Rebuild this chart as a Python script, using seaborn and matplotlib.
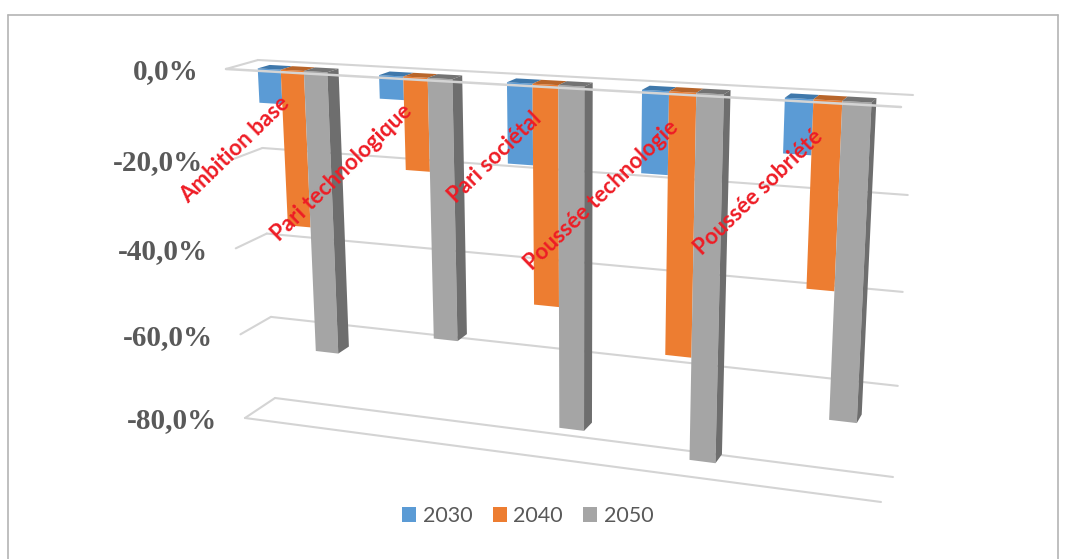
import numpy as np
import pandas as pd
import matplotlib
matplotlib.use("Agg")
import matplotlib.pyplot as plt
import seaborn as sns
from matplotlib.lines import Line2D
from matplotlib.patches import Polygon
from matplotlib.transforms import IdentityTransform, Transform

# Chart values
scenarios = ["Ambition base", "Pari technologique", "Pari sociétal",
             "Poussée technologie", "Poussée sobriété"]
years = ["2030", "2040", "2050"]
values_2030 = [-7.5, -5, -17, -17, -11]
values_2040 = [-34.5, -20, -47, -55, -38]
values_2050 = [-63, -57, -74, -77.5, -65]
grid_values = [0, -20, -40, -60, -80]
grid_labels = ["0,0%", "-20,0%", "-40,0%", "-60,0%", "-80,0%"]

W, H = 1067, 559
BLUE, ORANGE, GREY = "#5b9bd5", "#ed7d31", "#a5a5a5"
TOP_COLOURS = ["#3f78ab", "#b8652a", "#737373"]
SIDE_COLOUR = "#6e6e6e"
GRID_COLOUR = "#d4d4d4"
FRONT_DEPTH, BACK_DEPTH = 0.78, 0.40
BAR_WIDTH = 0.58

sns.set_theme(style="white")
fig = plt.figure(figsize=(W / 100, H / 100), dpi=100, facecolor="white")
ax = fig.add_axes([0, 0, 1, 1])


def px(x, y):
    return (x, H - y)


# Corners of the chart box: left-top, right-top, right-bottom, left-bottom
BACK_WALL = np.array([px(258, 60), px(913, 95), px(893, 477), px(275, 398)], float)
FRONT_WALL = np.array([px(226, 69), px(901, 107), px(881, 502), px(245, 418)], float)
X_MIN, X_MAX, V_MIN, V_MAX = -0.5, 4.5, -80.0, 0.0


def homography(src, dst):
    rows, rhs = [], []
    for (x, y), (u, v) in zip(src, dst):
        rows.append([x, y, 1, 0, 0, 0, -u * x, -u * y])
        rows.append([0, 0, 0, x, y, 1, -v * x, -v * y])
        rhs += [u, v]
    return np.append(np.linalg.solve(np.array(rows), np.array(rhs)), 1).reshape(3, 3)


class WallProjection(Transform):
    """Maps (category, value) on a plane of given depth to display pixels."""
    input_dims = output_dims = 2
    has_inverse = False
    is_separable = False

    def __init__(self, depth):
        super().__init__()
        corners = BACK_WALL + depth * (FRONT_WALL - BACK_WALL)
        source = [(X_MIN, V_MAX), (X_MAX, V_MAX), (X_MAX, V_MIN), (X_MIN, V_MIN)]
        self.matrix = homography(source, corners)

    def transform_non_affine(self, values):
        pts = np.asarray(values, float)
        hom = np.c_[pts, np.ones(len(pts))] @ self.matrix.T
        return hom[:, :2] / hom[:, 2:]


front_wall = WallProjection(1.0)
back_wall = WallProjection(0.0)
bar_front = WallProjection(FRONT_DEPTH)
bar_back = WallProjection(BACK_DEPTH)


def draw_face(points_front, points_back, colour, zorder=2.2):
    verts = np.vstack([bar_front.transform(points_front),
                       bar_back.transform(points_back)[::-1]])
    ax.add_patch(Polygon(verts, closed=True, facecolor=colour, edgecolor="none",
                         transform=IdentityTransform(), zorder=zorder))


df = pd.DataFrame({
    "scenario": np.tile(scenarios, len(years)),
    "year": np.repeat(years, len(scenarios)),
    "value": values_2030 + values_2040 + values_2050,
})

sns.barplot(data=df, x="scenario", y="value", hue="year",
            palette=[BLUE, ORANGE, GREY], saturation=1, width=BAR_WIDTH, gap=0,
            linewidth=0, ax=ax, zorder=2)

# Re-seat the seaborn bars on the projected plane and extrude them
for k, container in enumerate(ax.containers):
    for bar in container:
        bar.set_transform(bar_front)
        x0, x1 = bar.get_x(), bar.get_x() + bar.get_width()
        level = bar.get_y() + bar.get_height()
        base = bar.get_y() if level == 0 else level
        top = [(x0, 0), (x1, 0)]
        draw_face(top, top, TOP_COLOURS[k], zorder=2.1)
        if k == len(years) - 1:
            low = min(bar.get_y(), level)
            edge = [(x1, 0), (x1, low)]
            draw_face(edge, edge, SIDE_COLOUR, zorder=2.1)

# Gridlines on the back wall with their returns towards the front
for v in grid_values:
    ax.plot([X_MIN, X_MAX], [v, v], color=GRID_COLOUR, lw=1.5, transform=back_wall, zorder=1)
    a = front_wall.transform([(X_MIN, v)])[0]
    b = back_wall.transform([(X_MIN, v)])[0]
    ax.plot([a[0], b[0]], [a[1], b[1]], color=GRID_COLOUR, lw=1.5,
            transform=IdentityTransform(), zorder=1)

ax.plot([X_MIN, X_MAX], [V_MIN, V_MIN], color=GRID_COLOUR, lw=1.5, transform=front_wall, zorder=1)
ax.plot([X_MIN, X_MAX], [V_MAX, V_MAX], color=GRID_COLOUR, lw=1.8, transform=front_wall, zorder=3)

# Value labels beside the front edge
for v, label in zip(grid_values, grid_labels):
    ax.annotate(label, xy=(X_MIN, v), xycoords=front_wall, xytext=(-20, -2),
                textcoords="offset points", ha="right", va="center",
                family="Liberation Serif", weight="bold", size=21, color="#595959",
                zorder=4, annotation_clip=False)

# Slanted category labels
for i, name in enumerate(scenarios):
    ax.annotate(name, xy=(i, -6.5), xycoords=bar_front, xytext=(-5, 0),
                textcoords="offset points", ha="right", va="center",
                rotation=44, rotation_mode="anchor", family="Lato", weight="bold",
                size=16, color="#ee1c25", zorder=5, annotation_clip=False)

sns.move_legend(ax, "center", bbox_to_anchor=(528 / W, 1 - 516 / H),
                bbox_transform=fig.transFigure, ncol=3, title=None, frameon=False,
                fontsize=15.5, labelcolor="#595959", handlelength=0.65, handleheight=0.65,
                handletextpad=0.3, columnspacing=0.95, prop={"family": "Lato", "size": 15.5})

ax.set(xlabel="", ylabel="", xticks=[], yticks=[])
ax.set_axis_off()

# Thin frame round the figure, open at the bottom
frame_colour = "#b4b4b4"
for xs, ys in [((8, 8), (15, H)), ((8, 1058), (15, 15)), ((1058, 1058), (15, H))]:
    fig.add_artist(Line2D(np.array(xs) / W, 1 - np.array(ys) / H, color=frame_colour, lw=1.2))

fig.savefig("out.png", dpi=100)
